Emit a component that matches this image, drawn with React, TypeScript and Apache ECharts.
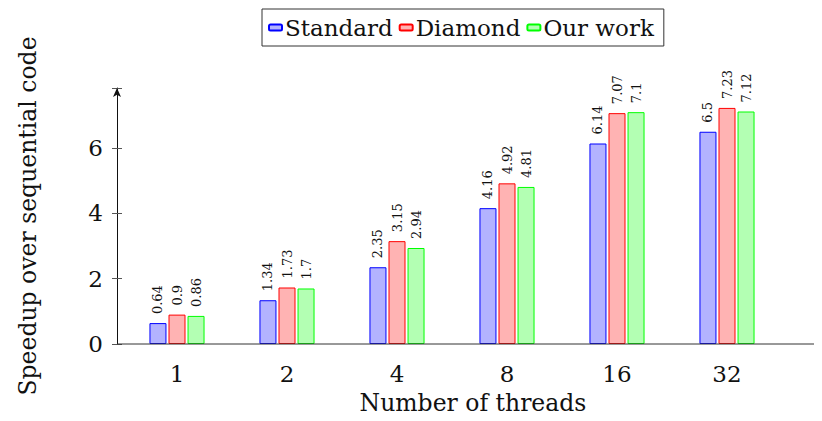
import React, { useEffect, useRef } from "react";
import * as echarts from "echarts";

const categories = ["1", "2", "4", "8", "16", "32"];
const standard = [0.64, 1.34, 2.35, 4.16, 6.14, 6.5];
const diamond = [0.9, 1.73, 3.15, 4.92, 7.07, 7.23];
const ourWork = [0.86, 1.7, 2.94, 4.81, 7.1, 7.12];
const seriesNames = ["Standard", "Diamond", "Our work"];

const FONT = "DejaVu Serif";

export default function App() {
  const ref = useRef<HTMLDivElement>(null);
  useEffect(() => {
    if (!ref.current) return;
    const chart = echarts.init(ref.current, undefined, { renderer: "svg" });
    const mk = (name: string, data: number[], fill: string, border: string) => ({
      name,
      type: "bar",
      data,
      barWidth: 17,
      barGap: "12%",
      itemStyle: { color: fill, borderColor: border, borderWidth: 1 },
      label: {
        show: true,
        position: "top",
        rotate: 90,
        align: "left",
        verticalAlign: "middle",
        distance: 9,
        fontFamily: FONT,
        fontSize: 13,
        color: "#111",
      },
    });
    chart.setOption({
      animation: false,
      textStyle: { fontFamily: FONT },
      legend: {
        left: 262,
        top: 9,
        data: seriesNames,
        itemWidth: 13,
        itemHeight: 6,
        itemGap: 6,
        padding: [7, 10, 7, 6],
        borderColor: "#333",
        borderWidth: 1,
        borderRadius: 0,
        textStyle: { fontFamily: FONT, fontSize: 23, color: "#111", padding: [0, 0, 0, -2] },
      },
      grid: { left: 122, width: 660, top: 88, bottom: 77, containLabel: false },
      xAxis: {
        type: "category",
        data: categories,
        axisLine: { show: false },
        axisTick: { show: false },
        axisLabel: { fontFamily: FONT, fontSize: 23, color: "#111", margin: 18 },
        name: "Number of threads",
        nameLocation: "middle",
        nameGap: 47,
        nameTextStyle: { fontFamily: FONT, fontSize: 23.5, color: "#111", padding: [0, 0, 0, 42] },
      },
      yAxis: [
        {
          type: "value",
          min: 0,
          max: 7.84,
          interval: 2,
          offset: 5,
          splitLine: { show: false },
          axisLine: {
            show: true,
            lineStyle: { color: "#111", width: 1 },
            symbol: ["none", "arrow"],
            symbolSize: [6, 9],
          },
          axisTick: { show: true, length: 5, lineStyle: { color: "#555" } },
          axisLabel: {
            fontFamily: FONT,
            fontSize: 23,
            color: "#111",
            margin: 14,
            formatter: (v: number) => (v % 2 === 0 && v <= 6 ? String(v) : ""),
          },
          name: "Speedup over sequential code",
          nameLocation: "middle",
          nameGap: 77,
          nameTextStyle: { fontFamily: FONT, fontSize: 23.5, color: "#111" },
        },
        {
          type: "value",
          min: 0,
          max: 7.84,
          interval: 2,
          offset: 5,
          position: "left",
          splitLine: { show: false },
          axisLine: { show: false },
          axisTick: { show: true, inside: true, length: 5, lineStyle: { color: "#555" } },
          axisLabel: { show: false },
        },
      ],
      graphic: [
        {
          type: "line",
          shape: { x1: 117, y1: 344, x2: 822, y2: 344 },
          style: { stroke: "#333", lineWidth: 1 },
          z: 10,
        },
      ],
      series: [
        mk(seriesNames[0], standard, "#b3b3ff", "#0000ff"),
        mk(seriesNames[1], diamond, "#ffb3b3", "#ff0000"),
        mk(seriesNames[2], ourWork, "#b3ffb3", "#00ff00"),
      ],
    });
    return () => chart.dispose();
  }, []);
  return <div ref={ref} style={{ width: 822, height: 421, margin: -8 }} />;
}
